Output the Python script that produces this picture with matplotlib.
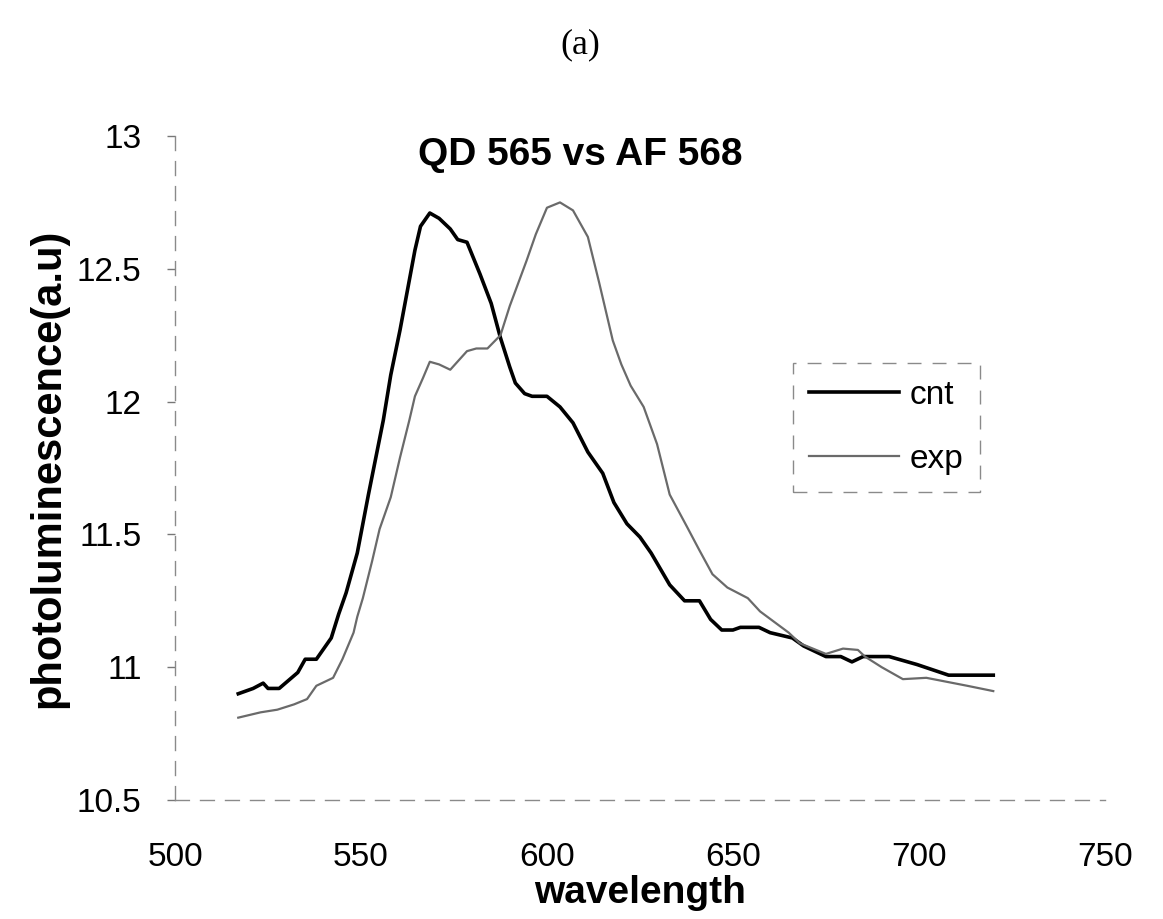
import numpy as np
import matplotlib.pyplot as plt

# spectra
cnt_wl = [517, 521, 523.7, 525, 528, 533, 535, 538, 542, 544, 546, 548, 549, 550.5,
          552, 554, 556, 558, 560.5, 562.5, 564.5, 566, 568.5, 571, 574, 576, 578.5,
          582, 585, 587.5, 590, 591.5, 594, 596, 600, 603.5, 607, 611, 615, 618,
          621.5, 625, 628, 633, 637, 641, 644, 647, 650, 652, 657, 660, 666, 669,
          675, 679, 682, 685, 692, 699.5, 708, 720]
cnt_pl = [10.90, 10.92, 10.94, 10.92, 10.92, 10.98, 11.03, 11.03, 11.11, 11.20, 11.28,
          11.38, 11.43, 11.54, 11.65, 11.79, 11.93, 12.10, 12.27, 12.42, 12.57, 12.66,
          12.71, 12.69, 12.65, 12.61, 12.60, 12.48, 12.37, 12.24, 12.13, 12.07, 12.03,
          12.02, 12.02, 11.98, 11.92, 11.81, 11.73, 11.62, 11.54, 11.49, 11.43, 11.31,
          11.25, 11.25, 11.18, 11.14, 11.14, 11.15, 11.15, 11.13, 11.11, 11.08, 11.04,
          11.04, 11.02, 11.04, 11.04, 11.01, 10.97, 10.97]

exp_wl = [517, 523, 527.5, 532, 535.5, 538, 542.5, 545, 548, 549, 550.5, 553, 555, 558,
          560.5, 563, 564.5, 566.7, 568.5, 571, 574, 578.5, 581, 584, 587.5, 590, 594.5,
          597, 600, 603.5, 607, 611, 614, 617.7, 620, 622.5, 626, 629.6, 633, 637.6,
          641, 644.5, 648.5, 654, 657.3, 665, 668, 675, 679.6, 683.6, 685.5, 690,
          695.7, 702, 713, 720]
exp_pl = [10.81, 10.83, 10.84, 10.86, 10.88, 10.93, 10.96, 11.03, 11.13, 11.19, 11.26,
          11.40, 11.52, 11.64, 11.79, 11.93, 12.02, 12.09, 12.15, 12.14, 12.12, 12.19,
          12.20, 12.20, 12.25, 12.36, 12.53, 12.63, 12.73, 12.75, 12.72, 12.62, 12.45,
          12.23, 12.14, 12.06, 11.98, 11.84, 11.65, 11.53, 11.44, 11.35, 11.30, 11.26,
          11.21, 11.13, 11.09, 11.05, 11.07, 11.065, 11.04, 11.00, 10.955, 10.96,
          10.93, 10.91]

x_ticks = [500, 550, 600, 650, 700, 750]
y_ticks = [10.5, 11, 11.5, 12, 12.5, 13]
y_labels = ['10.5', '11', '11.5', '12', '12.5', '13']

plt.rcParams['font.family'] = ['Liberation Sans', 'DejaVu Sans']

fig = plt.figure(figsize=(11.63, 9.19), dpi=100)
ax = fig.add_axes([0.1505, 0.1295, 0.7995, 0.7225])

ax.plot(cnt_wl, cnt_pl, color='black', lw=2.6, label='cnt')
ax.plot(exp_wl, exp_pl, color='#6a6a6a', lw=1.6, label='exp')

ax.set_xlim(500, 750)
ax.set_ylim(10.5, 13)
ax.set_xticks(x_ticks)
ax.set_yticks(y_ticks)
ax.set_yticklabels(y_labels)
ax.tick_params(axis='x', length=0, pad=30, labelsize=24)
ax.tick_params(axis='y', length=6, width=1, color='#777777', pad=18, labelsize=24)

for s in ['top', 'right']:
    ax.spines[s].set_visible(False)
for s in ['left', 'bottom']:
    ax.spines[s].set_linestyle((0, (10, 8)))
    ax.spines[s].set_color('#8a8a8a')
    ax.spines[s].set_linewidth(1)

ax.set_xlabel('wavelength', fontsize=28, fontweight='bold', labelpad=2)
ax.set_ylabel('photoluminescence(a.u)', fontsize=30, fontweight='bold', labelpad=6)

fig.text(0.499, 0.831, 'QD 565 vs AF 568', fontsize=28, fontweight='bold',
         ha='center', va='center')
fig.text(0.499, 0.951, '(a)', fontsize=26, family='Liberation Serif',
         ha='center', va='center')

leg = ax.legend(loc='center', bbox_to_anchor=(0.762, 0.535), bbox_transform=fig.transFigure,
                fontsize=24, handlelength=2.7, handletextpad=0.3, labelspacing=1.0,
                borderpad=0.5, fancybox=False, framealpha=1)
leg.get_frame().set_linestyle((0, (10, 8)))
leg.get_frame().set_edgecolor('#8a8a8a')
leg.get_frame().set_linewidth(1)

fig.savefig('out.png', dpi=100)
